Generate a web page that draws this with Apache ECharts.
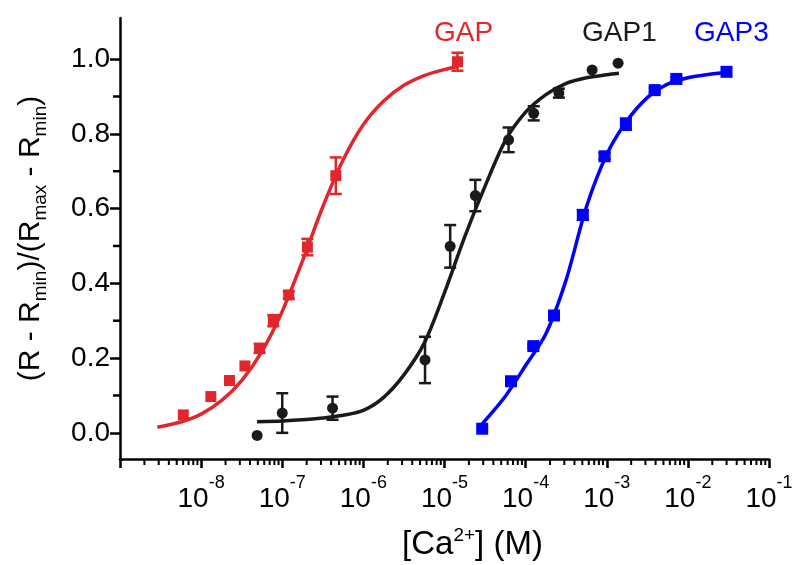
<!DOCTYPE html>
<html>
<head>
<meta charset="utf-8">
<script src="https://cdn.jsdelivr.net/npm/echarts@6/dist/echarts.min.js"></script>
<style>
html,body{margin:0;padding:0;background:#fff;}
#chart{width:794px;height:565px;}
</style>
</head>
<body>
<div id="chart"></div>
<script>
// ---- Data (x values are log10 of [Ca2+] in M) ----
const gapLogCa   = [-8.22, -7.88, -7.65, -7.46, -7.28, -7.11, -6.92, -6.69, -6.34, -4.84];
const gapResp    = [0.048, 0.097, 0.140, 0.179, 0.226, 0.300, 0.369, 0.497, 0.688, 0.993];
const gapErr     = [0, 0, 0, 0, 0.012, 0.015, 0.010, 0.022, 0.049, 0.024];
const gapFitLogCa = [-8.54, -8.25, -8.00, -7.75, -7.50, -7.25, -7.00, -6.75, -6.50, -6.25, -6.00, -5.75, -5.50, -5.25, -5.00, -4.84];
const gapFitResp  = [0.015, 0.029, 0.050, 0.086, 0.140, 0.218, 0.325, 0.460, 0.605, 0.730, 0.825, 0.888, 0.930, 0.956, 0.972, 0.980];

const gap1LogCa  = [-7.31, -7.00, -6.38, -5.24, -4.93, -4.62, -4.21, -3.90, -3.59, -3.18, -2.86];
const gap1Resp   = [-0.007, 0.053, 0.066, 0.195, 0.499, 0.635, 0.784, 0.855, 0.909, 0.971, 0.989];
const gap1Err    = [0, 0.053, 0.031, 0.062, 0.057, 0.042, 0.033, 0.019, 0.012, 0, 0];
const gap1FitLogCa = [-7.31, -7.00, -6.75, -6.50, -6.25, -6.00, -5.75, -5.50, -5.25, -5.00, -4.75, -4.50, -4.25, -4.00, -3.75, -3.50, -3.25, -3.00, -2.85];
const gap1FitResp  = [0.030, 0.032, 0.035, 0.040, 0.047, 0.060, 0.095, 0.155, 0.240, 0.375, 0.525, 0.660, 0.782, 0.858, 0.905, 0.935, 0.950, 0.958, 0.962];

const gap3LogCa  = [-4.535, -4.18, -3.905, -3.65, -3.295, -3.027, -2.764, -2.409, -2.142, -1.524];
const gap3Resp   = [0.011, 0.138, 0.232, 0.314, 0.583, 0.740, 0.826, 0.917, 0.947, 0.966];
const gap3Err    = [0, 0, 0.005, 0.010, 0.013, 0.008, 0.015, 0.006, 0.005, 0];
const gap3FitLogCa = [-4.535, -4.25, -4.00, -3.75, -3.50, -3.25, -3.00, -2.75, -2.50, -2.25, -2.00, -1.75, -1.524];
const gap3FitResp  = [0.024, 0.098, 0.180, 0.265, 0.410, 0.605, 0.745, 0.835, 0.897, 0.933, 0.950, 0.959, 0.964];

const xTickExps   = [-9, -8, -7, -6, -5, -4, -3, -2, -1];
const xLabelExps  = [-8, -7, -6, -5, -4, -3, -2, -1];
const yTickValues = [0, 0.2, 0.4, 0.6, 0.8, 1.0];
const yMinorTicks = [0.1, 0.3, 0.5, 0.7, 0.9];
const seriesNames = ['GAP', 'GAP1', 'GAP3'];

// ---- Axis ranges / styling ----
const X_MIN = -9, X_MAX = -1, Y_MIN = -0.07, Y_MAX = 1.11;
const FONT = '"Liberation Sans", Arial, Helvetica, sans-serif';
const RED = '#e3262b', BLACK = '#1a1a1a', BLUE = '#0000ff';

// minor (2..9) tick positions of the log axis
const xMinorTicks = [];
for (let d = X_MIN; d < X_MAX; d++) for (let k = 2; k <= 9; k++) xMinorTicks.push(d + Math.log10(k));

function zip(xs, ys) { return xs.map((x, i) => [x, ys[i]]); }
function zip3(xs, ys, es) { return xs.map((x, i) => [x, ys[i], es[i]]); }

function errorBar(color) {
  return function (params, api) {
    const x = api.value(0), y = api.value(1), e = api.value(2);
    if (!e) return { type: 'group', children: [] };
    const hi = api.coord([x, y + e]), lo = api.coord([x, y - e]);
    const w = 6;
    const st = { stroke: color, lineWidth: 2.5 };
    return { type: 'group', children: [
      { type: 'line', shape: { x1: hi[0], y1: hi[1], x2: lo[0], y2: lo[1] }, style: st },
      { type: 'line', shape: { x1: hi[0] - w, y1: hi[1], x2: hi[0] + w, y2: hi[1] }, style: st },
      { type: 'line', shape: { x1: lo[0] - w, y1: lo[1], x2: lo[0] + w, y2: lo[1] }, style: st }
    ]};
  };
}

function fitSeries(name, xs, ys, color) {
  return { name: name + ' fit', type: 'line', data: zip(xs, ys), showSymbol: false, smooth: 0.3,
    lineStyle: { color: color, width: 3.5 }, z: 2 };
}

const chart = echarts.init(document.getElementById('chart'), null, { renderer: 'canvas' });
const axisLine = { show: true, onZero: false, lineStyle: { color: '#000', width: 2.5 } };

const titleGraphics = [
  { type: 'text', left: 434, top: 19, style: { text: seriesNames[0], fill: RED, font: '28px ' + FONT } },
  { type: 'text', left: 582, top: 19, style: { text: seriesNames[1], fill: BLACK, font: '28px ' + FONT } },
  { type: 'text', left: 694, top: 19, style: { text: seriesNames[2], fill: BLUE, font: '28px ' + FONT } }
];

const option = {
  animation: false,
  backgroundColor: '#fff',
  textStyle: { fontFamily: FONT },
  grid: { left: 120, right: 25, top: 18, bottom: 106, containLabel: false, outerBoundsMode: 'none' },
  xAxis: {
    type: 'value', min: X_MIN, max: X_MAX, interval: 1, position: 'bottom',
    axisLine: axisLine,
    axisTick: { show: true, inside: false, length: 9, customValues: xTickExps, lineStyle: { color: '#000', width: 2.5 } },
    splitLine: { show: false },
    axisLabel: {
      customValues: xLabelExps, margin: 15,
      formatter: v => '{b|10}{s|' + Math.round(v) + '}',
      rich: {
        b: { fontSize: 28, lineHeight: 50, fontFamily: FONT, color: '#000' },
        s: { fontSize: 18, lineHeight: 18, verticalAlign: 'top', fontFamily: FONT, color: '#000' }
      }
    },
    name: '{m|[Ca}{s|2+}{m|] (M)}',
    nameLocation: 'middle', nameGap: 67,
    nameTextStyle: {
      padding: [0, 0, 0, 56],
      rich: {
        m: { fontSize: 33, lineHeight: 37, fontFamily: FONT, color: '#000' },
        s: { fontSize: 19, lineHeight: 19, verticalAlign: 'top', fontFamily: FONT, color: '#000' }
      }
    }
  },
  yAxis: {
    type: 'value', min: Y_MIN, max: Y_MAX, position: 'left',
    axisLine: axisLine,
    axisTick: { show: true, inside: false, length: 10, customValues: yTickValues, lineStyle: { color: '#000', width: 2.5 } },
    splitLine: { show: false },
    axisLabel: {
      customValues: yTickValues, margin: 10,
      formatter: v => v.toFixed(1),
      fontSize: 28, fontFamily: FONT, color: '#000'
    },
    name: '{r|(R - R}{s|min}{r|)/(R}{s|max}{r| - R}{s|min}{r|)}',
    nameLocation: 'middle', nameGap: 70, nameRotate: 90,
    nameTextStyle: {
      rich: {
        r: { fontSize: 30, lineHeight: 38, fontFamily: FONT, color: '#000' },
        s: { fontSize: 19, lineHeight: 19, verticalAlign: 'bottom', fontFamily: FONT, color: '#000' }
      }
    }
  },
  graphic: titleGraphics,
  series: [
    fitSeries(seriesNames[0], gapFitLogCa, gapFitResp, RED),
    fitSeries(seriesNames[1], gap1FitLogCa, gap1FitResp, BLACK),
    fitSeries(seriesNames[2], gap3FitLogCa, gap3FitResp, BLUE),

    { type: 'custom', renderItem: errorBar(RED), data: zip3(gapLogCa, gapResp, gapErr), encode: { x: 0, y: 1 }, z: 3 },
    { type: 'custom', renderItem: errorBar(BLACK), data: zip3(gap1LogCa, gap1Resp, gap1Err), encode: { x: 0, y: 1 }, z: 3 },
    { type: 'custom', renderItem: errorBar(BLUE), data: zip3(gap3LogCa, gap3Resp, gap3Err), encode: { x: 0, y: 1 }, z: 3 },

    { name: seriesNames[0], type: 'scatter', data: zip(gapLogCa, gapResp), symbol: 'rect', symbolSize: 11,
      itemStyle: { color: RED, opacity: 1 }, z: 4 },
    { name: seriesNames[1], type: 'scatter', data: zip(gap1LogCa, gap1Resp), symbol: 'circle', symbolSize: 11,
      itemStyle: { color: BLACK, opacity: 1 }, z: 4 },
    { name: seriesNames[2], type: 'scatter', data: zip(gap3LogCa, gap3Resp), symbol: 'rect', symbolSize: 12,
      itemStyle: { color: BLUE, opacity: 1 }, z: 4 }
  ]
};
chart.setOption(option);

// Minor ticks of both axes, positioned through the chart's own axis scales
const finder = { xAxisIndex: 0, yAxisIndex: 0 };
const minorGraphics = [];
xMinorTicks.forEach(v => {
  const c = chart.convertToPixel(finder, [v, Y_MIN]);
  minorGraphics.push({ type: 'line', silent: true, z: 10,
    shape: { x1: c[0], y1: c[1], x2: c[0], y2: c[1] + 6 }, style: { stroke: '#000', lineWidth: 2 } });
});
yMinorTicks.forEach(v => {
  const c = chart.convertToPixel(finder, [X_MIN, v]);
  minorGraphics.push({ type: 'line', silent: true, z: 10,
    shape: { x1: c[0], y1: c[1], x2: c[0] - 7, y2: c[1] }, style: { stroke: '#000', lineWidth: 2.5 } });
});
chart.setOption({ graphic: titleGraphics.concat(minorGraphics) });
</script>
</body>
</html>
